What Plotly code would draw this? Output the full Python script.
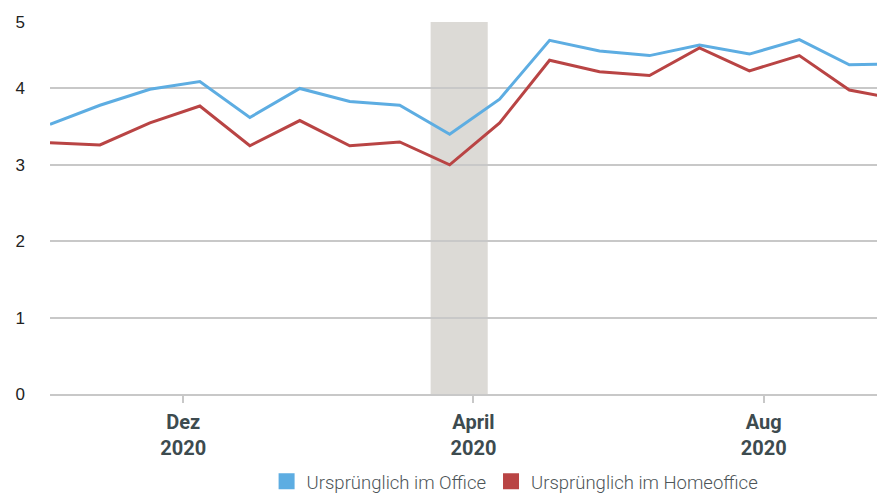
import plotly.graph_objects as go
import pandas as pd

dates = pd.date_range("2019-10-06", periods=17, freq="21D").strftime("%Y-%m-%d").tolist() + ["2020-09-21"]
office = [3.53, 3.78, 3.99, 4.09, 3.62, 4.00, 3.83, 3.78, 3.40, 3.86, 4.63, 4.49, 4.43, 4.57, 4.45, 4.64, 4.31, 4.32]
homeoffice = [3.29, 3.26, 3.55, 3.77, 3.25, 3.58, 3.25, 3.30, 3.00, 3.55, 4.37, 4.22, 4.17, 4.53, 4.23, 4.43, 3.98, 3.89]
names = ["Ursprünglich im Office", "Ursprünglich im Homeoffice"]
colors = ["#5dade2", "#b94444"]
shade = ["2020-03-14", "2020-04-07"]
xtick_vals = ["2019-12-01", "2020-04-01", "2020-08-01"]
xtick_text = ["Dez<br>2020", "April<br>2020", "Aug<br>2020"]
ytick_vals = [0, 1, 2, 3, 4, 4.87]
ytick_text = ["0", "1", "2", "3", "4", "5"]

fig = go.Figure()
for vals, name, col in zip([office, homeoffice], names, colors):
    fig.add_trace(go.Scatter(x=dates, y=vals, mode="lines", name=name,
                             line=dict(color=col, width=3), showlegend=False))
    fig.add_trace(go.Scatter(x=[None], y=[None], mode="markers", name=name,
                             marker=dict(symbol="square", size=17, color=col)))

fig.add_shape(type="rect", xref="x", yref="paper", x0=shade[0], x1=shade[1], y0=0, y1=1,
              fillcolor="#dcdad6", line_width=0, layer="below")

# page body has an 8px default margin, so the figure is sized to fit the window
fig.update_layout(
    width=877, height=489,
    margin=dict(l=42, r=0, t=14, b=103, autoexpand=False),
    plot_bgcolor="white", paper_bgcolor="white",
    font=dict(family="Roboto", color="#333"),
    legend=dict(orientation="h", x=0.557, xanchor="center", y=-0.236, yanchor="middle",
                font=dict(size=18.5, color="#4d5558", family="Roboto", weight=300),
                itemsizing="trace", tracegroupgap=0, itemwidth=30),
)
fig.update_xaxes(
    type="date", range=[dates[0], dates[-1]],
    tickvals=xtick_vals, ticktext=xtick_text,
    tickfont=dict(size=20, color="#3d4b4f", family="Roboto", weight="bold"),
    showgrid=False, ticks="outside", ticklen=7, tickcolor="#c8c8c8", tickwidth=1.5,
    showline=True, linecolor="#c8c8c8", linewidth=1.5, zeroline=False,
    automargin=False, ticklabelstandoff=2,
)
fig.update_yaxes(
    range=[0, 4.87], tickvals=ytick_vals, ticktext=ytick_text,
    tickfont=dict(size=17, color="#222", family="Liberation Sans"),
    showgrid=True, gridcolor="#c8c8c8", gridwidth=1.5, zeroline=False,
    ticklabelstandoff=24, automargin=False,
)
fig.write_html("out.html")
